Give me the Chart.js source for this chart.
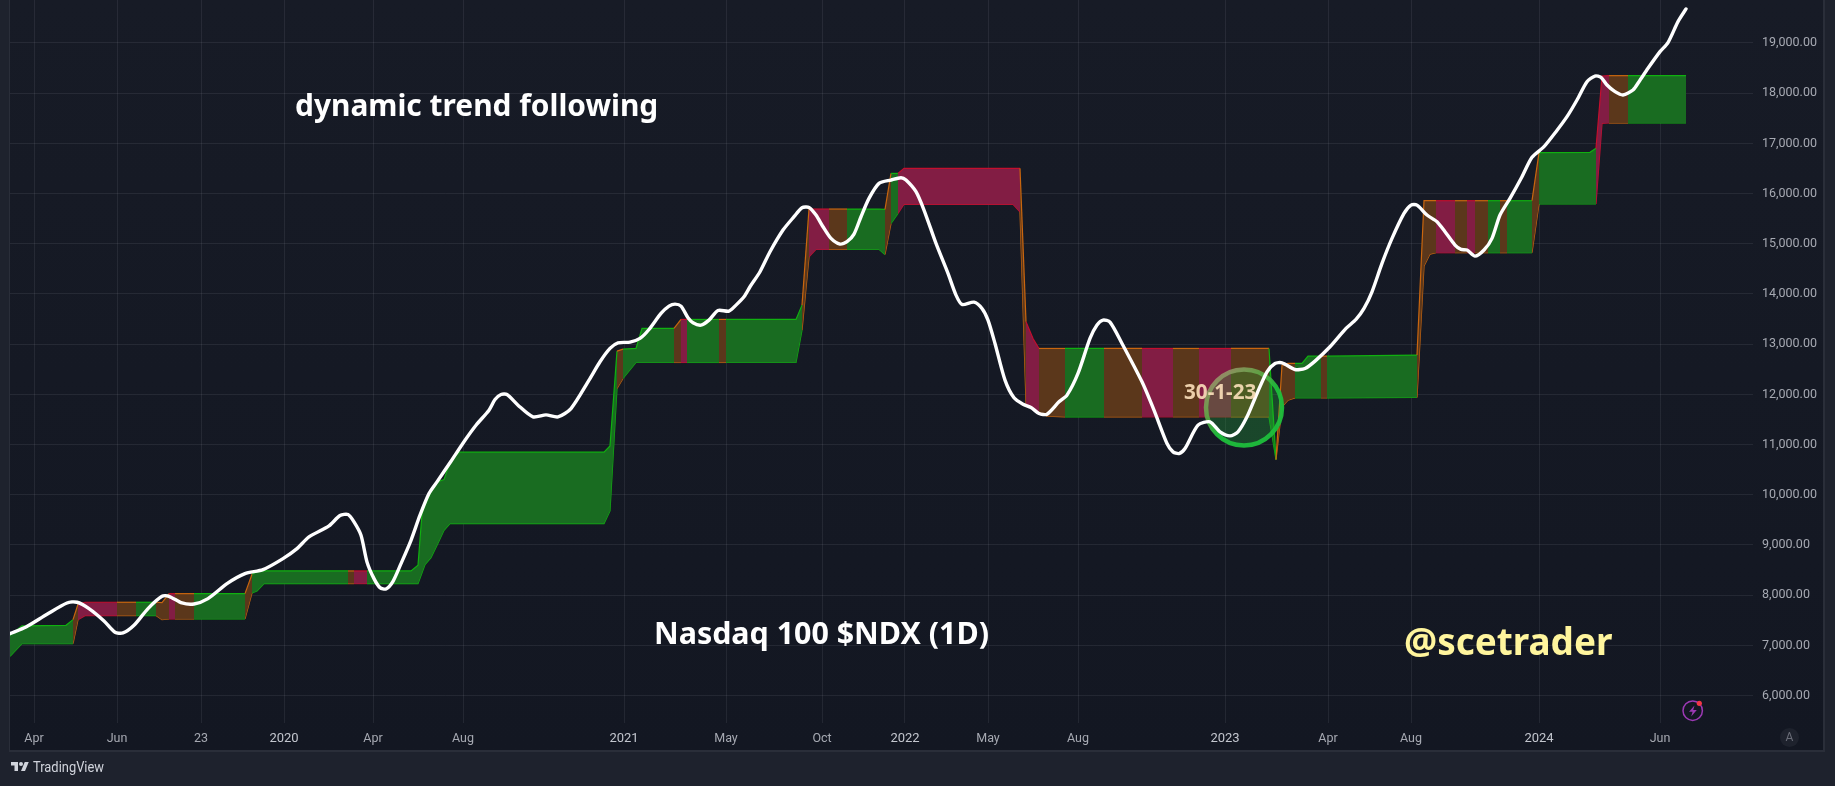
<!DOCTYPE html>
<html><head><meta charset="utf-8">
<style>
html,body{margin:0;padding:0;width:1835px;height:786px;overflow:hidden;background:#1e222d}
#pane{position:absolute;left:9px;top:0;width:1816px;height:752px;box-sizing:border-box;background:linear-gradient(#171b26,#131722);border-left:1.5px solid #2a2e39;border-bottom:2px solid #2a2e39;border-right:2px solid #2a2e39}
canvas{position:absolute;left:0;top:0}
.t{position:absolute;white-space:nowrap;font-family:"Noto Sans",sans-serif;font-weight:700;line-height:1}
svg{position:absolute}
</style></head><body>
<div id="pane"></div>
<canvas id="c" width="1835" height="786"></canvas>
<div class="t" style="left:295px;top:90px;font-size:29.9px;color:#fff">dynamic trend following</div>
<div class="t" style="left:654px;top:618px;font-size:30.4px;color:#fff">Nasdaq 100 $NDX (1D)</div>
<div class="t" style="left:1404px;top:623px;font-size:36.9px;color:#fff59d">@scetrader</div>
<div class="t" style="left:1184px;top:381px;font-size:20.7px;color:rgba(255,228,190,.88)">30-1-23</div>
<svg style="left:10px;top:760px" width="20" height="14" viewBox="0 0 36 28"><path fill="#d1d4dc" d="M14 22H7V11H0V4h14v18zM28 22h-8l7.5-18h8L28 22z"/><circle cx="20" cy="8" r="4" fill="#d1d4dc"/></svg>
<div class="t" style="left:33px;top:760px;font-family:Roboto,sans-serif;font-weight:400;font-size:15px;color:#d1d4dc;transform:scaleX(.86);transform-origin:left">TradingView</div>
<svg style="left:1680px;top:698px" width="26" height="26" viewBox="0 0 26 26"><circle cx="12.7" cy="12.7" r="9.7" fill="none" stroke="#9c39b4" stroke-width="1.5"/><path d="M14.5 7.5L9 13.8h3.6l-1.4 4.6 5.6-6.4h-3.6z" fill="#9c39b4"/><circle cx="19.3" cy="5.3" r="2.6" fill="#f23645"/></svg>
<div style="position:absolute;left:1780px;top:728px;width:19px;height:19px;border-radius:50%;background:#1e222d;color:#6a6d78;font:12px/19px Roboto,sans-serif;text-align:center">A</div>
<script src="https://cdn.jsdelivr.net/npm/chart.js@4"></script>
<script>
const priceBars=[0,16,37,57,67,79,94,105,113,124,138,152,159,172,184,198,217,235,253,273,287,299,319,330,338,344,351,357,364,370,376,383,391,401,410,419,427,441,455,466,479,485,491,497,508,523,536,548,561,579,590,600,608,620,630,639,651,659,665,671,678,683,691,699,708,719,726,734,740,750,760,773,784,792,799,806,813,821,830,837,844,851,859,869,881,891,896,906,914,926,938,946,952,964,972,978,985,995,1004,1013,1021,1029,1037,1049,1057,1068,1080,1087,1093,1100,1112,1132,1144,1157,1163,1169,1175,1188,1200,1210,1220,1228,1237,1247,1257,1265,1272,1285,1295,1305,1320,1336,1346,1354,1362,1372,1382,1394,1401,1407,1417,1427,1435,1445,1451,1457,1465,1474,1482,1490,1500,1512,1522,1534,1546,1557,1567,1577,1585,1591,1597,1605,1613,1623,1629,1638,1650,1658,1668,1676];
const priceValues=[7234,7367,7620,7845,7859,7733,7487,7261,7248,7400,7733,7978,7978,7845,7825,7932,8231,8430,8510,8729,8928,9161,9380,9586,9606,9460,9194,8663,8330,8151,8125,8277,8629,9094,9593,10024,10257,10669,11087,11386,11685,11898,11997,11997,11785,11552,11592,11552,11718,12283,12649,12915,13028,13041,13114,13293,13612,13758,13798,13758,13526,13426,13380,13479,13672,13659,13778,13944,14144,14443,14841,15273,15539,15718,15725,15572,15340,15107,14994,15041,15193,15539,15904,16203,16270,16316,16270,16037,15672,15007,14410,13978,13792,13838,13712,13479,13014,12284,11932,11805,11739,11619,11606,11852,11985,12417,13114,13380,13479,13440,13014,12250,11686,11021,10855,10822,10922,11387,11453,11254,11174,11254,11553,12018,12450,12616,12629,12496,12516,12663,12948,13314,13493,13712,14044,14609,15107,15605,15771,15771,15572,15439,15240,14974,14888,14875,14755,14875,15107,15572,15904,16336,16722,16934,17233,17532,17864,18229,18342,18316,18163,18030,17964,18063,18229,18495,18827,19007,19425,19678];

const bandBars=[0,12,56,63,68,75,107,126,146,152,159,165,184,235,242,247,254,338,344,357,401,408,412,415,421,427,434,440,449,594,600,607,613,626,632,664,671,677,709,716,786,792,799,806,819,837,869,875,881,888,894,898,1003,1010,1016,1023,1029,1037,1055,1094,1132,1163,1189,1221,1259,1266,1272,1278,1285,1292,1298,1311,1317,1407,1414,1420,1426,1445,1457,1465,1478,1490,1497,1522,1529,1580,1586,1592,1599,1618,1676];
const bandUpper=[7201,7387,7400,7513,7819,7859,7859,7859,7859,7852,8031,8031,8031,8031,8417,8470,8483,8483,8483,8483,8483,8596,9626,9790,10058,10257,10303,10650,10848,10848,10974,12862,12902,12915,13313,13313,13493,13493,13493,13493,13493,13778,15692,15692,15692,15692,15692,15685,16402,16402,16502,16502,16502,16502,13446,13114,12915,12915,12915,12915,12915,12915,12915,12915,12915,10702,12583,12616,12616,12616,12762,12762,12762,12783,15858,15858,15858,15858,15858,15858,15858,15858,15858,15858,16815,16821,16901,18342,18349,18349,18349];
const bandLower=[6782,7035,7035,7035,7513,7593,7593,7593,7593,7513,7527,7527,7527,7527,8045,8085,8231,8231,8231,8231,8231,8231,8447,8609,8749,8995,9294,9426,9426,9426,9679,12118,12317,12636,12636,12636,12636,12636,12636,12636,12636,13280,14742,14888,14888,14888,14888,14788,15406,15605,15791,15785,15785,15638,11819,11719,11653,11566,11553,11553,11553,11553,11553,11553,11553,10702,11752,11885,11931,11931,11931,11931,11931,11939,14556,14795,14822,14822,14822,14822,14822,14822,14822,14822,15792,15792,15792,17399,17406,17406,17406];
const bandStates=['g','g','g','o','r','r','o','g','o','o','r','o','g','o','g','g','g','o','r','g','g','g','g','g','g','g','g','g','g','g','g','o','g','g','g','o','r','g','o','g','g','o','r','r','o','g','g','o','g','r','r','r','r','o','r','r','o','o','g','o','r','o','r','o','g','o','o','o','g','g','g','o','g','o','o','o','r','o','r','o','g','o','g','o','g','g','r','r','o','g','g'];

const tickBars=[24,107,191,274,363,453,614,716,812,895,978,1068,1215,1318,1401,1529,1650];
const tickLabels=['Apr','Jun','23','2020','Apr','Aug','2021','May','Oct','2022','May','Aug','2023','Apr','Aug','2024','Jun'];
const yearLabels=['2020','2021','2022','2023','2024'];
const yTicks=[6000,7000,8000,9000,10000,11000,12000,13000,14000,15000,16000,17000,18000,19000];
const markerBar=[1234];
const markerValue=[11740];

const fillColors={g:'rgba(26,112,33,.97)',r:'rgba(134,30,69,.97)',o:'rgba(94,57,27,.97)'};
const edgeColors={g:'#10b010',r:'#c30f2e',o:'#c9660f'};
const pts=(xs,ys)=>xs.map((x,i)=>({x,y:ys[i]}));
const noPad=s=>{s.paddingLeft=s.paddingRight=s.paddingTop=s.paddingBottom=0;};
const ctx=document.getElementById('c').getContext('2d');
const ringGrad=ctx.createLinearGradient(1212,375,1265,440);
ringGrad.addColorStop(0,'rgba(165,150,115,.85)');
ringGrad.addColorStop(.35,'rgba(95,170,70,.9)');
ringGrad.addColorStop(.6,'rgba(30,190,60,.95)');
ringGrad.addColorStop(1,'rgba(30,190,60,.95)');
new Chart(ctx,{
 type:'line',
 data:{datasets:[
  {label:'price',data:pts(priceBars,priceValues),borderColor:'#fff',borderWidth:3.4,pointRadius:0,tension:.25,fill:false,borderCapStyle:'round',borderJoinStyle:'round'},
  {label:'marker',data:pts(markerBar,markerValue),showLine:false,pointRadius:38,pointHoverRadius:38,pointBorderWidth:4.5,pointBorderColor:ringGrad,pointBackgroundColor:'rgba(40,190,60,.28)'},
  {label:'upper',data:pts(bandBars,bandUpper),borderWidth:1.2,pointRadius:0,tension:0,fill:'+1',backgroundColor:fillColors.g,borderColor:edgeColors.g,
   segment:{backgroundColor:c=>fillColors[bandStates[c.p0DataIndex]],borderColor:c=>edgeColors[bandStates[c.p0DataIndex]]}},
  {label:'lower',data:pts(bandBars,bandLower),borderWidth:1.2,pointRadius:0,tension:0,fill:false,borderColor:edgeColors.g,
   segment:{borderColor:c=>edgeColors[bandStates[c.p0DataIndex]]}}
 ]},
 options:{
  responsive:false,animation:false,devicePixelRatio:1,
  layout:{autoPadding:false,padding:{left:10,top:0,right:0,bottom:0}},
  plugins:{legend:{display:false},tooltip:{enabled:false}},
  events:[],
  scales:{
   x:{type:'linear',min:0,max:1743,
    afterBuildTicks:s=>{s.ticks=tickBars.map(value=>({value}));},
    afterFit:s=>{s.height=63;noPad(s);},
    grid:{color:'rgba(240,243,250,.075)',drawTicks:false},border:{display:false},
    ticks:{autoSkip:false,maxRotation:0,padding:8,
     callback:v=>tickLabels[tickBars.indexOf(v)],
     color:c=>yearLabels.includes(tickLabels[c.index])?'#c3c6ce':'#a6a9b2',
     font:c=>({family:'Roboto',size:yearLabels.includes(tickLabels[c.index])?13:12.5,weight:'400'})}},
   y:{position:'right',min:5454,max:19856,
    afterBuildTicks:s=>{s.ticks=yTicks.map(value=>({value}));},
    afterFit:s=>{s.width=82;noPad(s);},
    grid:{color:'rgba(240,243,250,.075)',drawTicks:false},border:{display:false},
    ticks:{autoSkip:false,padding:9,color:'#a6a9b2',font:{family:'Roboto',size:12.5},
     callback:v=>v.toLocaleString('en-US',{minimumFractionDigits:2,maximumFractionDigits:2})}}
  }
 }
});
</script>
</body></html>
